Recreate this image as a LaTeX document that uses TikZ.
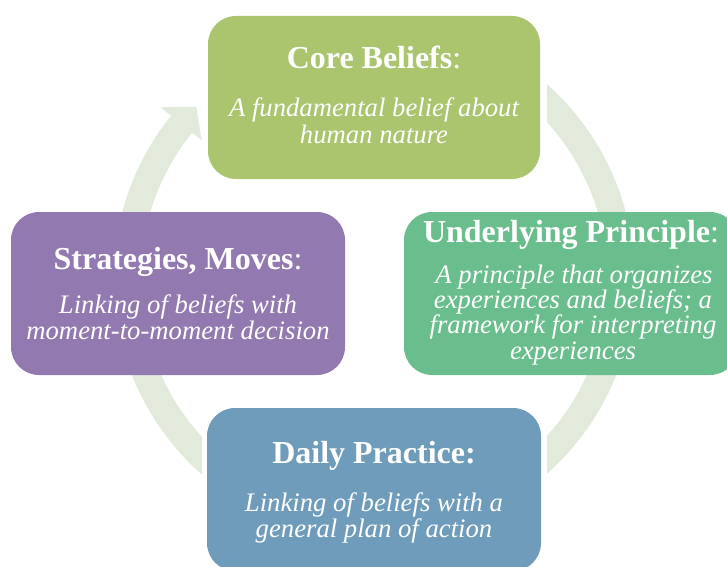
\documentclass[tikz,border=0pt]{standalone}
\usepackage{fontspec}
\setmainfont{Liberation Serif}
\usetikzlibrary{calc}
\definecolor{ringC}{HTML}{E1EADB}
\definecolor{coreC}{HTML}{ABC46E}
\definecolor{undC}{HTML}{6ABE8E}
\definecolor{strC}{HTML}{9279B0}
\definecolor{dayC}{HTML}{6F9CBA}
\tikzset{
  ringline/.style={draw=ringC, line width=27pt},
  box/.style={rounded corners=28pt, inner sep=0pt, minimum width=334pt, minimum height=163pt},
  ttl/.style={text=white, anchor=base, inner sep=0pt, font=\fontsize{32}{35}\selectfont\bfseries},
  bdy/.style={text=white, anchor=base, inner sep=0pt, font=\fontsize{26.7}{27}\selectfont\itshape}
}
\begin{document}
\begin{tikzpicture}[x=1pt,y=1pt]
\useasboundingbox (0,0) rectangle (727,566);
\clip (0,0) rectangle (727,566);
\coordinate (C) at (374,287);
% ring pieces
\begin{scope}
  \clip (547,0) rectangle (727,566);
  \draw[ringline] (C) ++(-90:247) arc[start angle=-90, end angle=90, radius=247];
\end{scope}
\begin{scope}
  \clip (0,0) rectangle (202,566);
  \draw[ringline] (C) ++(141.2:247) arc[start angle=141.2, end angle=250, radius=247];
\end{scope}
\coordinate (hA) at ($(C)+(141.2:274)$);
\coordinate (hB) at ($(C)+(135.9:247.6)$);
\coordinate (hC) at ($(C)+(141.2:221)$);
\fill[ringC] (hA) -- (hB) -- (hC) -- cycle;
% boxes
\node[box, fill=coreC, minimum width=332pt] (core) at (374,468.5) {};
\node[box, fill=undC] (und) at (571,272.5) {};
\node[box, fill=strC] (str) at (178,272.5) {};
\node[box, fill=dayC] (day) at (374,76.5) {};
% texts
\node[ttl] (coreT) at (374,497) {Core Beliefs\textmd{:}};
\node[bdy] (coreB1) at (374,449) {A fundamental belief about};
\node[bdy] (coreB2) at (374,423) {human nature};
\node[ttl] (undT) at (571,324) {Underlying Principle\textmd{:}};
\node[bdy] (undB1) at (574,283) {A principle that organizes};
\node[bdy] (undB2) at (573,258) {experiences and beliefs; a};
\node[bdy] (undB3) at (573,233) {framework for interpreting};
\node[bdy] (undB4) at (573,207) {experiences};
\node[ttl] (strT) at (178,297) {Strategies, Moves\textmd{:}};
\node[bdy] (strB1) at (178,253) {Linking of beliefs with};
\node[bdy] (strB2) at (178,227) {moment-to-moment decision};
\node[ttl] (dayT) at (374,103) {Daily Practice:};
\node[bdy] (dayB1) at (374,55) {Linking of beliefs with a};
\node[bdy] (dayB2) at (374,29) {general plan of action};
\end{tikzpicture}
\end{document}
